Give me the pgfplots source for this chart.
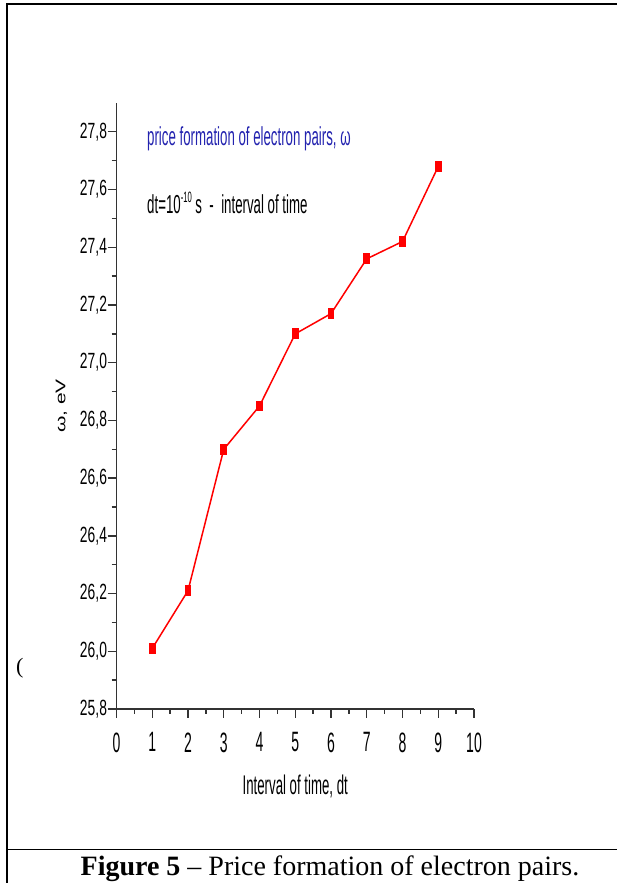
\documentclass[border=0pt]{standalone}
\usepackage{pgfplots}
\pgfplotsset{compat=1.18}
\usepackage{fontspec}
\setmainfont{Liberation Serif}
\newfontfamily\fytick[FakeStretch=0.63]{Liberation Sans}
\newfontfamily\fxtick[FakeStretch=0.5]{Liberation Sans}
\newfontfamily\fann[FakeStretch=0.51]{Liberation Sans}
\newfontfamily\fxlab[FakeStretch=0.49]{Liberation Sans}
\newfontfamily\fylab[FakeStretch=1.5]{Liberation Sans}
\definecolor{annblue}{RGB}{35,35,175}
\begin{document}
\begin{tikzpicture}
\useasboundingbox (0,0) rectangle (617pt,883pt);
\draw[line width=2pt] (7pt,0pt) -- (7pt,879pt) -- (617pt,879pt);
\draw[line width=1pt] (7pt,33pt) -- (617pt,33pt);
\begin{axis}[
  at={(116.5pt,174pt)}, anchor=south west,
  scale only axis, width=357.5pt, height=606pt,
  xmin=0, xmax=10, ymin=25.8, ymax=27.9,
  axis x line=bottom, axis y line=left,
  axis line style={-, line width=1.8pt, black!80},
  xtick={0,1,2,3,4,5,6,7,8,9,10},
  ytick={25.8,26,26.2,26.4,26.6,26.8,27,27.2,27.4,27.6,27.8},
  minor x tick num=1, minor y tick num=1,
  tick align=outside,
  major tick length=9pt, minor tick length=5pt,
  tick style={black!80, line width=1.3pt},
  /pgf/number format/assume math mode=true,
  yticklabel style={font=\fytick\fontsize{22}{22}\selectfont, xshift=3pt,
    /pgf/number format/.cd, fixed, fixed zerofill, precision=1, use comma},
  xticklabel style={font=\fxtick\fontsize{28}{28}\selectfont, yshift=-11pt},
  xlabel={Interval of time, dt},
  xlabel style={font=\fxlab\fontsize{27}{27}\selectfont, yshift=-16pt},
  ylabel={ω, eV},
  ylabel style={font=\fylab\fontsize{14}{14}\selectfont, yshift=6pt},
]
\addplot[red, line width=1.5pt, mark=square*, mark size=2.6pt,
  mark options={yscale=1.8, solid, fill=red}]
  coordinates {(1,26.01)(2,26.21)(3,26.70)(4,26.85)(5,27.10)(6,27.17)(7,27.36)(8,27.42)(9,27.68)};
\end{axis}
\node[anchor=base west, inner sep=0pt, text=annblue] at (147pt,737pt)
  {\fann\fontsize{26}{26}\selectfont price formation of electron pairs, ω};
\node[anchor=base west, inner sep=0pt] at (147pt,669pt)
  {\fann\fontsize{26}{26}\selectfont dt=10\raisebox{0.45em}{\fontsize{15}{15}\selectfont -10} s \ - \ interval of time};
\node[anchor=base west, inner sep=0pt] at (16pt,209pt)
  {\fontsize{22}{22}\selectfont (};
\node[anchor=base, inner sep=0pt] at (330pt,7.5pt)
  {\fontsize{28}{28}\selectfont\textbf{Figure 5} – Price formation of electron pairs.};
\end{tikzpicture}
\end{document}
